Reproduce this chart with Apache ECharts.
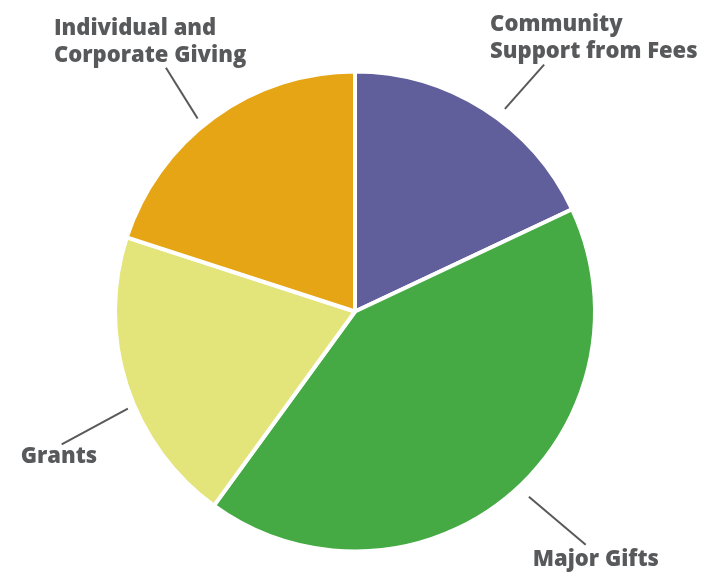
<!DOCTYPE html>
<html><head><meta charset="utf-8">
<script src="https://cdn.jsdelivr.net/npm/echarts@6/dist/echarts.min.js"></script>
<style>html,body{margin:0;padding:0;background:#fff}#c{width:708px;height:573px}</style>
</head><body><div id="c"></div>
<script>
const categories = ['Community\nSupport from Fees', 'Major Gifts', 'Grants', 'Individual and\nCorporate Giving'];
const shares = [18, 42, 20, 20];
const colors = ['#615f9b', '#45aa44', '#e3e47a', '#e5a514'];

const CX = 355, CY = 311.5, R = 240;
const startNudge = [4.1, -3.6, -5.15, -3.2];
const endNudge = [5.05, -5.1, -6.36, -1.8];
const leaderStart = [252, 254, 247, 249];
const leaderEnd = [311, 328, 322, 308.5];
const labelOffset = [[-54, -26], [-53, 15], [-41, 12], [-112, -26]];

const total = shares.reduce((a, b) => a + b, 0);
function midAngle(i) {
  let cum = 0;
  for (let k = 0; k < i; k++) cum += shares[k];
  return (cum + shares[i] / 2) / total * 360;
}
function polar(deg, r) {
  const a = deg * Math.PI / 180;
  return [CX + r * Math.sin(a), CY - r * Math.cos(a)];
}

const chart = echarts.init(document.getElementById('c'), null, {renderer: 'canvas'});
chart.setOption({
  animation: false,
  backgroundColor: '#ffffff',
  series: [{
    type: 'pie',
    center: [CX, CY],
    radius: R,
    startAngle: 90,
    clockwise: true,
    silent: true,
    avoidLabelOverlap: false,
    itemStyle: {borderColor: '#ffffff', borderWidth: 4},
    label: {
      show: true,
      position: 'outside',
      color: '#58595b',
      fontFamily: 'Open Sans',
      fontWeight: 800,
      fontSize: 22,
      lineHeight: 27,
      width: 250,
      overflow: 'none'
    },
    labelLine: {show: true, length: 20, length2: 10, smooth: false, lineStyle: {color: '#58595b', width: 2}},
    labelLayout: function (p) {
      const i = p.dataIndex;
      const m = midAngle(i);
      const s = polar(m + startNudge[i], leaderStart[i]);
      const e = polar(m + endNudge[i], leaderEnd[i]);
      return {
        x: e[0] + labelOffset[i][0],
        y: e[1] + labelOffset[i][1],
        align: 'left',
        verticalAlign: 'middle',
        labelLinePoints: [s, e]
      };
    },
    data: categories.map((name, i) => ({name: name, value: shares[i], itemStyle: {color: colors[i]}}))
  }]
});
</script>
</body></html>
